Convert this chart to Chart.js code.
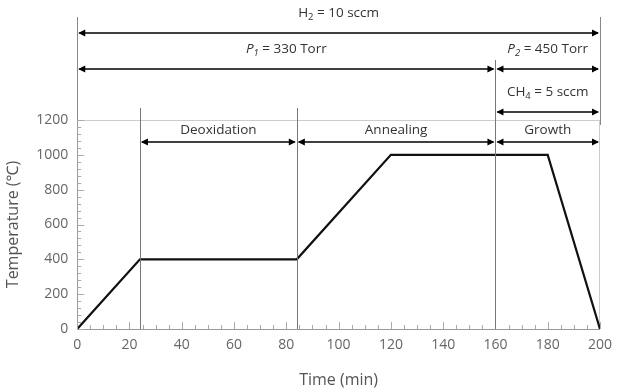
<!DOCTYPE html>
<html>
<head>
<meta charset="utf-8">
<script src="https://cdn.jsdelivr.net/npm/chart.js@4"></script>
<style>
  html, body { margin: 0; padding: 0; background: #fff; }
  #wrap { width: 620px; height: 392px; }
</style>
</head>
<body>
<div id="wrap"><canvas id="c"></canvas></div>
<script>
const times = [0, 24, 84, 120, 180, 200];
const temps = [0, 400, 400, 1000, 1000, 0];

const phaseNames = ['Deoxidation', 'Annealing', 'Growth'];
const phaseStart = [24, 84, 160];
const phaseEnd = [84, 160, 200];

// gas / pressure spans (start, end in min)
const spanLabels = [
  [{ t: 'H' }, { t: '2', sub: true }, { t: ' = 10 sccm' }],
  [{ t: 'P', it: true }, { t: '1', sub: true, it: true }, { t: ' = 330 Torr' }],
  [{ t: 'P', it: true }, { t: '2', sub: true, it: true }, { t: ' = 450 Torr' }],
  [{ t: 'CH' }, { t: '4', sub: true }, { t: ' = 5 sccm' }]
];
const spanStart = [0, 0, 160, 160];
const spanEnd = [200, 160, 200, 200];
const spanRow = [0, 1, 1, 2];

const FONT = '"Open Sans", "Noto Sans", sans-serif';
const rowOffset = [-87, -51, -8];   // px above chart top
const phaseOffset = 22;

function arrow(ctx, x1, x2, y) {
  const h = 7, w = 3.5;
  ctx.beginPath();
  ctx.moveTo(x1 + 2, y); ctx.lineTo(x2 - 2, y); ctx.stroke();
  ctx.beginPath();
  ctx.moveTo(x1 + 1, y); ctx.lineTo(x1 + 1 + h, y - w); ctx.lineTo(x1 + 1 + h, y + w); ctx.closePath(); ctx.fill();
  ctx.beginPath();
  ctx.moveTo(x2 - 1, y); ctx.lineTo(x2 - 1 - h, y - w); ctx.lineTo(x2 - 1 - h, y + w); ctx.closePath(); ctx.fill();
}

function richText(ctx, parts, cx, y, size) {
  const fontOf = p => (p.it ? 'italic ' : '') + (p.sub ? size * 0.7 : size) + 'px ' + FONT;
  let total = 0;
  parts.forEach(p => { ctx.font = fontOf(p); total += ctx.measureText(p.t).width; });
  let x = cx - total / 2;
  ctx.textAlign = 'left';
  ctx.textBaseline = 'middle';
  parts.forEach(p => {
    ctx.font = fontOf(p);
    ctx.fillText(p.t, x, p.sub ? y + 4 : y);
    x += ctx.measureText(p.t).width;
  });
}

const decor = {
  id: 'decor',
  afterDatasetsDraw(chart) {
    const ctx = chart.ctx;
    const xs = chart.scales.x, ys = chart.scales.y;
    const top = chart.chartArea.top, bottom = chart.chartArea.bottom;
    const x0 = xs.getPixelForValue(0), x200 = xs.getPixelForValue(200);
    ctx.save();

    // minor / major ticks pointing inward
    ctx.strokeStyle = '#aaa';
    ctx.lineWidth = 1;
    for (let v = 0; v <= 200; v += 5) {
      const px = Math.round(xs.getPixelForValue(v)) + 0.5;
      const len = v % 20 === 0 ? 7 : 4;
      ctx.beginPath(); ctx.moveTo(px, bottom); ctx.lineTo(px, bottom - len); ctx.stroke();
    }
    for (let v = 0; v <= 1200; v += 40) {
      const py = Math.round(ys.getPixelForValue(v)) + 0.5;
      const len = v % 200 === 0 ? 7 : 4;
      ctx.beginPath(); ctx.moveTo(x0, py); ctx.lineTo(x0 + len, py); ctx.stroke();
    }

    // axis extensions above the plot
    const ext = top + rowOffset[0] - 16;
    ctx.strokeStyle = '#888';
    ctx.beginPath(); ctx.moveTo(Math.round(x0) + 0.5, ext); ctx.lineTo(Math.round(x0) + 0.5, top); ctx.stroke();
    ctx.beginPath(); ctx.moveTo(Math.round(x200) + 0.5, ext); ctx.lineTo(Math.round(x200) + 0.5, top + 5); ctx.stroke();

    // phase boundaries
    ctx.strokeStyle = '#777';
    [24, 84].forEach(v => {
      const px = Math.round(xs.getPixelForValue(v)) + 0.5;
      ctx.beginPath(); ctx.moveTo(px, top - 12); ctx.lineTo(px, bottom); ctx.stroke();
    });
    const p160 = Math.round(xs.getPixelForValue(160)) + 0.5;
    ctx.beginPath(); ctx.moveTo(p160, top + rowOffset[1] - 9); ctx.lineTo(p160, bottom); ctx.stroke();

    // arrows and labels
    ctx.strokeStyle = '#000';
    ctx.fillStyle = '#000';
    ctx.lineWidth = 1.4;
    spanLabels.forEach((lab, i) => {
      const a = xs.getPixelForValue(spanStart[i]);
      const b = xs.getPixelForValue(spanEnd[i]);
      const y = top + rowOffset[spanRow[i]];
      arrow(ctx, a, b, y);
      ctx.fillStyle = '#333';
      richText(ctx, lab, (a + b) / 2, y - 20, 13.5);
      ctx.fillStyle = '#000';
    });
    phaseNames.forEach((name, i) => {
      const a = xs.getPixelForValue(phaseStart[i]);
      const b = xs.getPixelForValue(phaseEnd[i]);
      const y = top + phaseOffset;
      arrow(ctx, a, b, y);
      ctx.fillStyle = '#333';
      richText(ctx, [{ t: name }], (a + b) / 2, y - 12, 13.5);
      ctx.fillStyle = '#000';
    });
    ctx.restore();
  }
};

new Chart(document.getElementById('c'), {
  type: 'line',
  data: {
    datasets: [{
      data: times.map((t, i) => ({ x: t, y: temps[i] })),
      borderColor: '#111',
      borderWidth: 2.2,
      pointRadius: 0,
      tension: 0,
      fill: false
    }]
  },
  options: {
    responsive: true,
    maintainAspectRatio: false,
    animation: false,
    layout: { padding: { top: 120, right: 20, left: 0, bottom: 2 } },
    plugins: { legend: { display: false }, tooltip: { enabled: false } },
    scales: {
      x: {
        type: 'linear',
        min: 0, max: 200,
        ticks: { stepSize: 20, color: '#666', padding: 8, font: { family: FONT, size: 14 } },
        grid: {
          drawTicks: false,
          color: c => c.tick && c.tick.value === 200 ? '#ccc' : 'transparent'
        },
        border: { display: true, color: '#999' },
        title: { display: true, text: 'Time (min)', color: '#555', font: { family: FONT, size: 16 }, padding: { top: 9, bottom: 0 } }
      },
      y: {
        min: 0, max: 1200,
        ticks: { stepSize: 200, color: '#666', padding: 9, font: { family: FONT, size: 14 }, callback: v => String(v) },
        grid: {
          drawTicks: false,
          color: c => c.tick && c.tick.value === 1200 ? '#ccc' : 'transparent'
        },
        border: { display: true, color: '#999' },
        title: { display: true, text: 'Temperature (℃)', color: '#555', font: { family: FONT, size: 16 }, padding: { bottom: 4 } }
      }
    }
  },
  plugins: [decor]
});
</script>
</body>
</html>
